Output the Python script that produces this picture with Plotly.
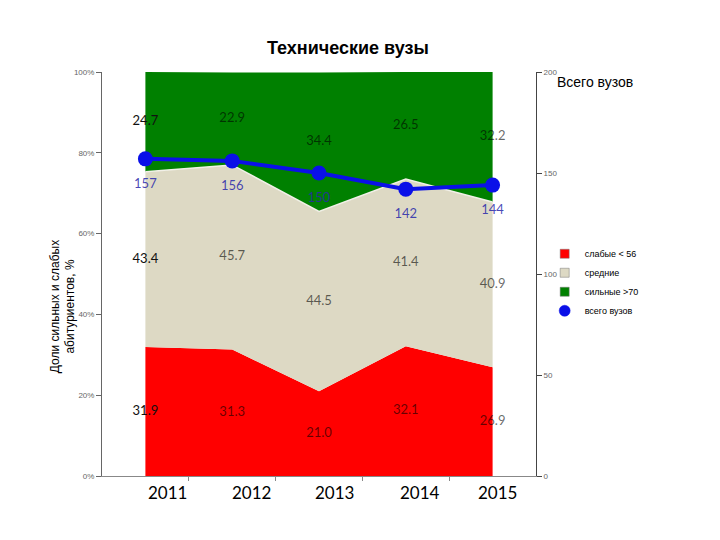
import plotly.graph_objects as go
import numpy as np

years = [2011, 2012, 2013, 2014, 2015]
weak = [31.9, 31.3, 21.0, 32.1, 26.9]
mid = [43.4, 45.7, 44.5, 41.4, 40.9]
strong = [24.7, 22.9, 34.4, 26.5, 32.2]
total = [157, 156, 150, 142, 144]
year_labels = ["2011", "2012", "2013", "2014", "2015"]
year_label_pos = [2011.25, 2012.22, 2013.18, 2014.16, 2015.06]
pct_ticks = [0, 20, 40, 60, 80, 100]
pct_ticktext = ["0%", "20%", "40%", "60%", "80%", "100%"]
cnt_ticks = [0, 50, 100, 150, 200]

RED, BEIGE, GREEN, BLUE = "#FF0000", "#DDD9C4", "#008000", "#0A10E8"
w = np.array(weak); m = np.array(mid); s = np.array(strong)

fig = go.Figure()
fig.add_trace(go.Scatter(x=years, y=weak, stackgroup="one", mode="none",
                         fillcolor=RED, showlegend=False, name="слабые < 56"))
fig.add_trace(go.Scatter(x=years, y=mid, stackgroup="one", mode="lines",
                         line=dict(color="#F2F0E8", width=1.5),
                         fillcolor=BEIGE, showlegend=False, name="средние"))
fig.add_trace(go.Scatter(x=years, y=strong, stackgroup="one", mode="none",
                         fillcolor=GREEN, showlegend=False, name="сильные >70"))

lbl_colors = ["#111111"] + ["rgba(0,0,0,0.6)"] * 4
fmt = lambda a: [f"{v:.1f}" for v in a]
for ys, vals in [(w / 2, w), (w + m / 2, m), (w + m + s / 2, s)]:
    fig.add_trace(go.Scatter(x=years, y=ys, mode="text", text=fmt(vals),
                             textfont=dict(family="Lato", size=13, color=lbl_colors),
                             showlegend=False, hoverinfo="skip"))

fig.add_trace(go.Scatter(x=years, y=total, yaxis="y2", mode="lines+markers",
                         line=dict(color=BLUE, width=4),
                         marker=dict(color=BLUE, size=15),
                         showlegend=False, name="всего вузов"))
# value labels for the line (transparent larger markers push text a bit lower)
fig.add_trace(go.Scatter(x=years, y=total, yaxis="y2", mode="markers+text",
                         marker=dict(size=29, opacity=0),
                         text=[str(v) for v in total], textposition="bottom center",
                         textfont=dict(family="Lato", size=13, color="rgba(40,40,170,0.85)"),
                         showlegend=False, hoverinfo="skip"))

# legend entries
for name, col, sym, sz in [("слабые < 56", RED, "square", 9), ("средние", BEIGE, "square", 9),
                           ("сильные >70", GREEN, "square", 9), ("всего вузов", BLUE, "circle", 11)]:
    fig.add_trace(go.Scatter(x=[None], y=[None], mode="markers", name=name,
                             marker=dict(symbol=sym, size=sz, color=col,
                                         line=dict(color="#777" if sym == "square" else BLUE, width=0.5))))

for lab, xp in zip(year_labels, year_label_pos):
    fig.add_annotation(x=xp, y=-0.042, xref="x", yref="paper", text=lab,
                       showarrow=False, yanchor="middle",
                       font=dict(family="Lato", size=17, color="black"))

fig.add_annotation(x=1.044, y=1.0, xref="paper", yref="paper", text="Всего вузов",
                   showarrow=False, xanchor="left", yanchor="top",
                   font=dict(family="Liberation Sans", size=14, color="black"))

fig.add_annotation(x=-0.09, y=0.42, xref="paper", yref="paper",
                   text="Доли сильных и слабых<br>абитуриентов, %", textangle=-90,
                   showarrow=False, xanchor="center", yanchor="middle",
                   font=dict(family="Liberation Sans", size=12, color="black"))

fig.update_layout(
    width=720, height=540,
    margin=dict(l=94, r=192, t=64, b=72),
    plot_bgcolor="white", paper_bgcolor="white",
    title=dict(text="<b>Технические вузы</b>", x=0.472, xanchor="center", y=0.926, yanchor="middle",
               font=dict(family="Liberation Sans", size=18, color="black")),
    xaxis=dict(range=[2010.5, 2015.5], tickvals=[2011.5, 2012.5, 2013.5, 2014.5],
               showticklabels=False, ticks="outside", ticklen=4, tickcolor="#888",
               showline=True, linecolor="#888", showgrid=False, zeroline=False),
    yaxis=dict(range=[0, 100], tickvals=pct_ticks, ticktext=pct_ticktext,
               ticks="outside", ticklen=5, tickcolor="#666",
               tickfont=dict(family="Liberation Sans", size=8, color="#666"),
               showline=True, linecolor="#666", showgrid=False, zeroline=False),
    yaxis2=dict(range=[0, 200], tickvals=cnt_ticks, overlaying="y", side="right",
                ticks="outside", ticklen=5, tickcolor="#444",
                tickfont=dict(family="Liberation Sans", size=8, color="#666"),
                showline=True, linecolor="#444", showgrid=False, zeroline=False),
    legend=dict(x=1.02, y=0.586, xanchor="left", yanchor="top", traceorder="normal",
                font=dict(family="Liberation Sans", size=9, color="black"),
                tracegroupgap=0, itemwidth=30, bgcolor="rgba(0,0,0,0)"),
    showlegend=True,
)

fig.write_html("out.html")
